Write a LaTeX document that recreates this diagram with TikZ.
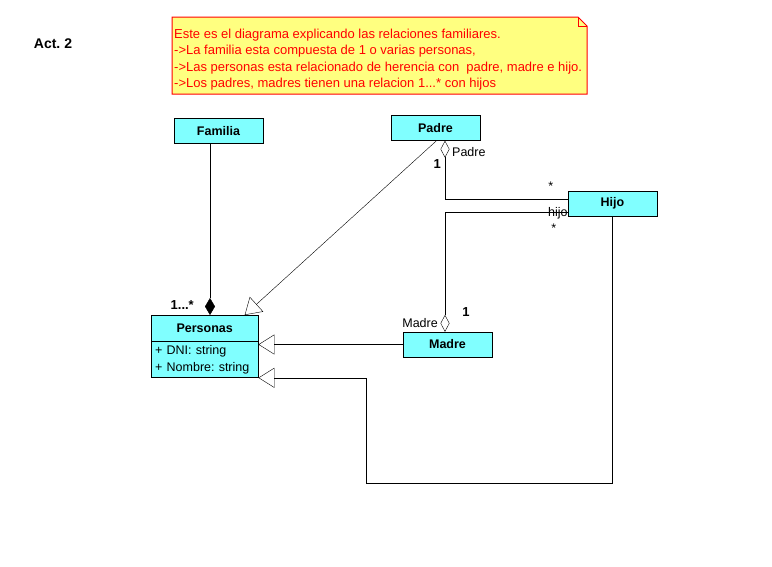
\documentclass[tikz,border=0pt]{standalone}
\usepackage{fontspec}
\setmainfont{Liberation Sans}
\usetikzlibrary{arrows.meta, positioning}
\frenchspacing

\definecolor{celeste}{RGB}{128,255,255}
\definecolor{amarillo}{RGB}{255,255,128}

\begin{document}
\begin{tikzpicture}[
    x=1pt, y=-1pt,
    clase/.style={
        rectangle,
        draw,
        fill=celeste,
        minimum width=89pt,
        minimum height=25pt,
        inner sep=0pt,
        font=\fontsize{12.5}{14}\selectfont\bfseries
    },
    atributos/.style={
        rectangle,
        draw,
        fill=celeste,
        text width=99pt,
        minimum height=36pt,
        inner xsep=4pt,
        inner ysep=1pt,
        align=left,
        font=\fontsize{12.5}{16.5}\selectfont
    },
    rol/.style={inner sep=1pt, font=\fontsize{12.5}{14}\selectfont},
    mult/.style={inner sep=1pt, font=\fontsize{13}{15}\selectfont\bfseries},
    herencia/.style={-{Triangle[open, length=16pt, width=20pt]}},
    agregacion/.style={{Diamond[open, length=17pt, width=9pt]}-},
    composicion/.style={-{Diamond[length=17pt, width=10pt]}}
]
    \useasboundingbox (0,0) rectangle (772,566);

    \node[font=\fontsize{14}{16}\selectfont\bfseries] (act) at (53,44) {Act. 2};

    % nota
    \draw[red, line width=1pt, fill=amarillo] (172,17) -- (578,17) -- (587,26) -- (587,94) -- (172,94) -- cycle;
    \draw[red] (578,17) -- (578,26) -- (587,26);
    \node[anchor=north west, inner sep=0pt, text=red, align=left,
          font=\fontsize{13}{16.3}\selectfont] (nota) at (174,29)
        {Este es el diagrama explicando las relaciones familiares.\\
         ->La familia esta compuesta de 1 o varias personas,\\
         ->Las personas esta relacionado de herencia con\ \ padre, madre e hijo.\\
         ->Los padres, madres tienen una relacion 1...* con hijos};

    % clases
    \node[clase] (familia) at (218.5,131) {Familia};
    \node[clase] (padre) at (435.5,128) {Padre};
    \node[clase] (hijo) at (612.5,203.5) {Hijo};
    \node[clase] (madre) at (447.5,344.5) {Madre};
    \node[clase, minimum width=107pt, minimum height=26pt, anchor=north west] (personas) at (151,315) {Personas};
    \node[atributos, below=0pt of personas] (personasatr) {+ DNI: string\\+ Nombre: string};

    % relaciones
    \draw[composicion] ([xshift=-8.5pt]familia.south) -- ([xshift=-8.5pt]familia.south |- personas.north)
        node[mult, at end, anchor=south east, xshift=-15pt, yshift=4pt] {1...*};
    \draw[herencia] ([xshift=1pt]padre.south) -- ([xshift=40pt]personas.north);
    \draw[herencia] (madre.west) -- (madre.west -| personasatr.east);
    \coordinate (rodeo) at (366,483);
    \draw[herencia] (hijo.south) |- (rodeo) |- (personasatr.south east);

    \draw[agregacion] ([xshift=9.5pt]padre.south) |- ([yshift=4pt]hijo.west)
        node[rol, at start, anchor=west, xshift=6pt, yshift=-11pt] {Padre}
        node[mult, at start, anchor=east, xshift=-3pt, yshift=-23pt] {1}
        node[rol, at end, xshift=-17pt, yshift=13pt] {*};
    \draw[agregacion] ([xshift=-2.5pt]madre.north) |- ([yshift=-8.5pt]hijo.west)
        node[rol, at start, anchor=east, xshift=-6pt, yshift=9pt] {Madre}
        node[mult, at start, xshift=21pt, yshift=20pt] {1}
        node[rol, at end, anchor=east, xshift=1pt, yshift=-1pt] {hijo}
        node[rol, at end, xshift=-14pt, yshift=-16pt] {*};
\end{tikzpicture}
\end{document}
